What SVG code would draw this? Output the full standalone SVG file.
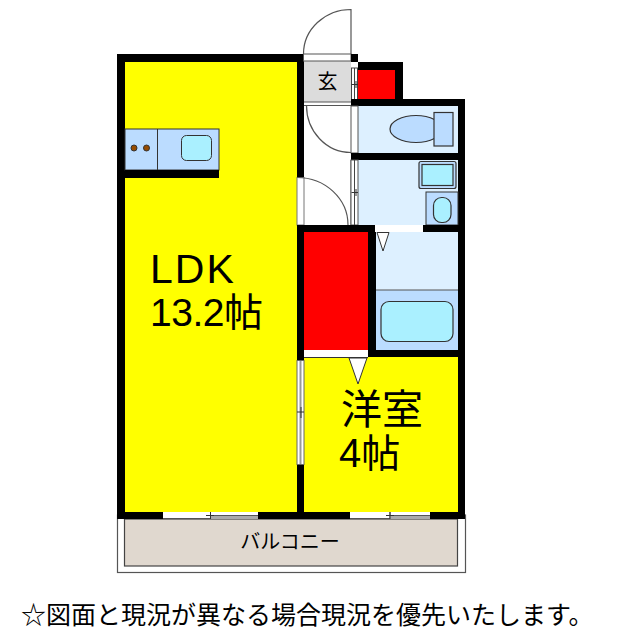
<svg xmlns="http://www.w3.org/2000/svg" width="640" height="640" viewBox="0 0 640 640">
<style>
.w{fill:#000}
.g{stroke:#555;stroke-width:1.2;fill:none}
text{font-family:"Liberation Sans","Noto Sans CJK JP",sans-serif;fill:#000}
.j{font-family:"Noto Sans CJK JP","Liberation Sans",sans-serif}
</style>
<rect width="640" height="640" fill="#fff"/>
<g id="balcony">
<rect x="117.500" y="515" width="348" height="57.500" fill="#fff" stroke="#555" stroke-width="1.200"/>
<rect x="124.500" y="519" width="333" height="47" fill="#e0d8cf" stroke="#444" stroke-width="1.200"/>
<text class="j" x="290" y="549" font-size="20" text-anchor="middle">バルコニー</text>
</g>
<g id="ldk">
<rect x="117" y="54" width="187" height="465" fill="#000"/>
<rect x="125" y="62" width="172" height="450" fill="#ff0"/>
<text x="150" y="283" font-size="41" letter-spacing="2">LDK</text>
<text x="150" y="326" font-size="39" letter-spacing="-.5">13.2<tspan class="j" font-size="39">帖</tspan></text>
</g>
<g id="kitchen">
<rect x="125" y="129" width="94" height="41" fill="#bbdcff" stroke="#333" stroke-width="1"/>
<rect x="125" y="170" width="94" height="8" fill="#000"/>
<line x1="157.500" y1="129" x2="157.500" y2="170" stroke="#333"/>
<circle cx="134" cy="148" r="3" fill="#964b00" stroke="#333" stroke-width="1"/>
<circle cx="146.500" cy="148" r="3" fill="#964b00" stroke="#333" stroke-width="1"/>
<rect x="181.500" y="135.500" width="30" height="25" rx="5" fill="#aaf0ff" stroke="#333" stroke-width="1"/>
</g>
<g id="genkan">
<rect x="304" y="61" width="47" height="41" fill="#dcdcdc"/>
<rect x="303.500" y="54" width="47.500" height="7" fill="#fff" stroke="#555" stroke-width="1"/>
<path class="g" d="M303.500 54A47.500 44.500 0 0 1 351 9.500V54"/>
<text class="j" x="327.500" y="89" font-size="20" text-anchor="middle">玄</text>
<rect x="351" y="54" width="7" height="8" fill="#000"/>
</g>
<g id="hall">
<rect x="304" y="102" width="47" height="123" fill="#fff"/>
<line x1="304" y1="102" x2="351" y2="102" stroke="#555"/>
<rect x="304" y="105" width="47" height="1" fill="#555"/>
<path class="g" d="M306.500 105.500A44.500 47 0 0 0 351 152.500"/>
<rect x="297" y="177.500" width="7" height="47.500" fill="#fff" stroke="#777" stroke-width="1"/>
<path class="g" d="M297 177.500A51 47.500 0 0 1 348 225"/>
<line x1="351" y1="225" x2="351" y2="160" stroke="#555"/>
</g>
<g id="closet-top">
<rect x="358" y="62" width="45" height="44" fill="#000"/>
<rect x="358" y="70" width="37" height="29" fill="#f00"/>
<rect x="351.500" y="68" width="6" height="33" fill="#fff" stroke="#444" stroke-width="1"/>
<line x1="354.500" y1="68" x2="354.500" y2="101" stroke="#444"/>
<path d="M351.500 84.500H358M356 81V88" stroke="#333" fill="none"/>
</g>
<g id="toilet">
<rect x="351" y="99" width="114" height="61" fill="#000"/>
<rect x="358" y="106" width="100" height="47" fill="#ddf0ff"/>
<rect x="351" y="106" width="7" height="47" fill="#fff" stroke="#555" stroke-width="1"/>
<ellipse cx="416" cy="129" rx="26" ry="13.500" fill="#bbdcff" stroke="#333" stroke-width="1.200"/>
<rect x="434" y="112.500" width="19" height="33.500" fill="#bbdcff" stroke="#333" stroke-width="1.200"/>
</g>
<g id="wash">
<rect x="351" y="153" width="114" height="79" fill="#000"/>
<rect x="358" y="160" width="100" height="65" fill="#ddf0ff"/>
<rect x="351" y="160" width="7" height="65" fill="#fff" stroke="#555" stroke-width="1"/>
<line x1="354.500" y1="160" x2="354.500" y2="225" stroke="#444"/>
<path d="M351.500 192.500H358M356 189V196" stroke="#333" fill="none"/>
<rect x="419" y="161.500" width="37" height="27" rx="2" fill="#bbdcff" stroke="#333" stroke-width="1.200"/>
<rect x="422" y="164.500" width="31" height="21" fill="#aaf0ff" stroke="#333" stroke-width="1.200"/>
<rect x="426" y="192" width="32" height="33" fill="#bbdcff" stroke="#333" stroke-width="1"/>
<rect x="433.500" y="197.500" width="17.500" height="25" rx="8" fill="#aaf0ff" stroke="#333" stroke-width="1.200"/>
</g>
<g id="bath">
<rect x="297" y="225" width="168" height="132" fill="#000"/>
<rect x="376" y="232" width="82" height="118" fill="#ddf0ff"/>
<rect x="376" y="290" width="82" height="60" fill="#bbdcff"/>
<line x1="376" y1="290" x2="458" y2="290" stroke="#555" stroke-width="1"/>
<rect x="381" y="301.500" width="72" height="40" rx="8" fill="#aaf0ff" stroke="#333" stroke-width="1.200"/>
<rect x="375" y="225" width="48" height="7" fill="#fff"/>
<path d="M377 232.500H389L383 251Z" fill="#fff" stroke="#333"/>
</g>
<g id="closet">
<rect x="304" y="232" width="64" height="118" fill="#f00"/>
<rect x="304" y="350" width="64" height="7" fill="#fff"/>
</g>
<g id="youshitsu">
<rect x="297" y="357" width="168" height="162" fill="#000"/>
<rect x="304" y="357" width="154" height="155" fill="#ff0"/>
<line x1="304" y1="357.500" x2="368" y2="357.500" stroke="#333"/>
<rect x="297" y="360.500" width="7" height="104" fill="#fff" stroke="#666" stroke-width="1"/>
<line x1="300.500" y1="361" x2="300.500" y2="464" stroke="#999" stroke-width="2"/>
<path d="M297 412H304M301 407V418" stroke="#333" fill="none"/>
<path d="M349 358H367L358 384Z" fill="#fff" stroke="#333"/>
<text class="j" x="341" y="424" font-size="41">洋室</text>
<text x="339" y="467" font-size="40">4<tspan class="j" font-size="39">帖</tspan></text>
</g>
<g id="windows">
<rect x="163" y="512" width="95" height="7" fill="#fff"/>
<path d="M163 518.500H210.500V512M210.500 515.500H258" stroke="#555" fill="none"/>
<rect x="210.500" y="516" width="47.500" height="3" fill="#aaa"/>
<path d="M206 515.500H214M210.500 512V519" stroke="#333" fill="none"/>
<rect x="350" y="512" width="80" height="7" fill="#fff"/>
<path d="M350 518.500H390V512M390 515.500H430" stroke="#555" fill="none"/>
<rect x="390" y="516" width="40" height="3" fill="#aaa"/>
<path d="M386 515.500H394M390 512V519" stroke="#333" fill="none"/>
</g>
<g id="note">
<text class="j" x="21" y="624" font-size="25">☆図面と現況が異なる場合現況を優先いたします。</text>
</g>
</svg>
